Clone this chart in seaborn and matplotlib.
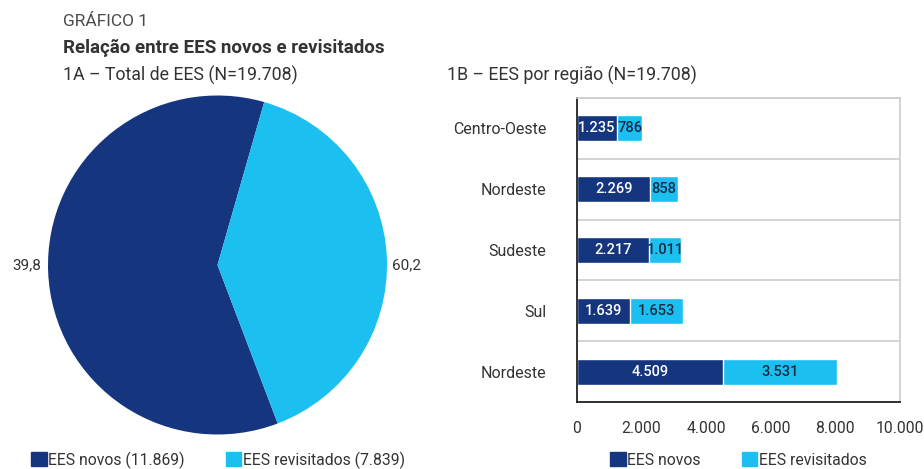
import matplotlib
matplotlib.use("Agg")
import matplotlib.pyplot as plt
import matplotlib.patches as mpatches
import seaborn as sns
import pandas as pd

# ---------- dados ----------
pie_labels = ["EES novos (11.869)", "EES revisitados (7.839)"]
pie_values = [11869, 7839]
pie_text_left = "39,8"
pie_text_right = "60,2"

regioes = ["Centro-Oeste", "Nordeste", "Sudeste", "Sul", "Nordeste"]
novos = [1235, 2269, 2217, 1639, 4509]
revisitados = [786, 858, 1011, 1653, 3531]
xticks = [0, 2000, 4000, 6000, 8000, 10000]

AZUL = "#15367f"
CIANO = "#1bbff0"
TXT = "#333333"

sns.set_theme(style="white")
plt.rcParams["font.family"] = ["Roboto", "DejaVu Sans"]
plt.rcParams["text.color"] = TXT


def fmt(v):
    return f"{v:,}".replace(",", ".")


fig = plt.figure(figsize=(9.24, 4.69), dpi=100)

# ---------- títulos ----------
fig.text(63 / 924, 1 - 22 / 469, "GRÁFICO 1", fontsize=12.5, color="#4a4a4a", va="center")
fig.text(63 / 924, 1 - 48 / 469, "Relação entre EES novos e revisitados",
         fontsize=13.5, fontweight="bold", va="center")
fig.text(63 / 924, 1 - 75 / 469, "1A – Total de EES (N=19.708)", fontsize=12.8, va="center")
fig.text(447 / 924, 1 - 75 / 469, "1B – EES por região (N=19.708)", fontsize=12.8, va="center")

# ---------- 1A: pizza ----------
ax1 = fig.add_axes([48 / 924, 1 - 435 / 469, 339 / 924, 340 / 469])
ax1.pie(pie_values, colors=[AZUL, CIANO], startangle=74, counterclock=True,
        wedgeprops={"linewidth": 0})
ax1.set_xlim(-1, 1); ax1.set_ylim(-1, 1)
ax1.text(-1.04, 0, pie_text_left, ha="right", va="center", fontsize=11)
ax1.text(1.03, 0, pie_text_right, ha="left", va="center", fontsize=11)

h1 = [mpatches.Patch(color=AZUL), mpatches.Patch(color=CIANO)]
fig.legend(h1, pie_labels, loc="center left", bbox_to_anchor=(31 / 924, 1 - 460 / 469),
           ncol=2, frameon=False, fontsize=11.3, handlelength=1, handleheight=1,
           handletextpad=0.1, columnspacing=2.6, borderaxespad=0, borderpad=0)

# ---------- 1B: barras empilhadas ----------
df = pd.DataFrame({"pos": range(len(regioes)), "novos": novos, "revisitados": revisitados})
df["total"] = df["novos"] + df["revisitados"]

ax2 = fig.add_axes([577 / 924, 1 - 402 / 469, 323 / 924, 304 / 469])
sns.barplot(data=df, x="total", y="pos", orient="h", color=CIANO, width=0.43,
            saturation=1, ax=ax2)
sns.barplot(data=df, x="novos", y="pos", orient="h", color=AZUL, width=0.43,
            saturation=1, ax=ax2)

for i, r in df.iterrows():
    ax2.text(r["novos"] / 2, i, fmt(r["novos"]), color="white", ha="center",
             va="center", fontsize=10.5, fontweight="medium")
    ax2.text(r["novos"] + r["revisitados"] / 2, i, fmt(r["revisitados"]), color="#1b2a45",
             ha="center", va="center", fontsize=10.5, fontweight="medium")

ax2.set_xlim(0, 10000)
ax2.set_ylim(len(regioes) - 0.5, -0.5)
ax2.set_xticks(xticks, labels=[fmt(v) for v in xticks])
bounds = [i - 0.5 for i in range(len(regioes) + 1)]
ax2.set_yticks(bounds, labels=[""] * len(bounds))
ax2.set_yticks(range(len(regioes)), labels=regioes, minor=True)
ax2.tick_params(axis="y", which="major", length=12, width=1.3, color="#222222", direction="out")
ax2.tick_params(axis="y", which="minor", length=0, labelsize=11.5, labelcolor=TXT, pad=22)
ax2.tick_params(axis="x", length=10, width=1.3, color="#222222", direction="out",
                labelsize=11.3, labelcolor=TXT, pad=4)
ax2.yaxis.grid(True, which="major", color="#cccccc", linewidth=1.2)
ax2.set_axisbelow(True)
ax2.set_xlabel(""); ax2.set_ylabel("")
for s in ["left", "bottom"]:
    ax2.spines[s].set_color("#222222"); ax2.spines[s].set_linewidth(1.3)
for s in ["top", "right"]:
    ax2.spines[s].set_color("#cccccc"); ax2.spines[s].set_linewidth(1.2)
    ax2.spines[s].set_visible(True)

h2 = [mpatches.Patch(color=AZUL), mpatches.Patch(color=CIANO)]
fig.legend(h2, ["EES novos", "EES revisitados"], loc="center left",
           bbox_to_anchor=(610 / 924, 1 - 460 / 469), ncol=2, frameon=False, fontsize=11.3,
           handlelength=1, handleheight=1, handletextpad=0.1, columnspacing=2.6,
           borderaxespad=0, borderpad=0)

fig.savefig("out.png", dpi=100)
